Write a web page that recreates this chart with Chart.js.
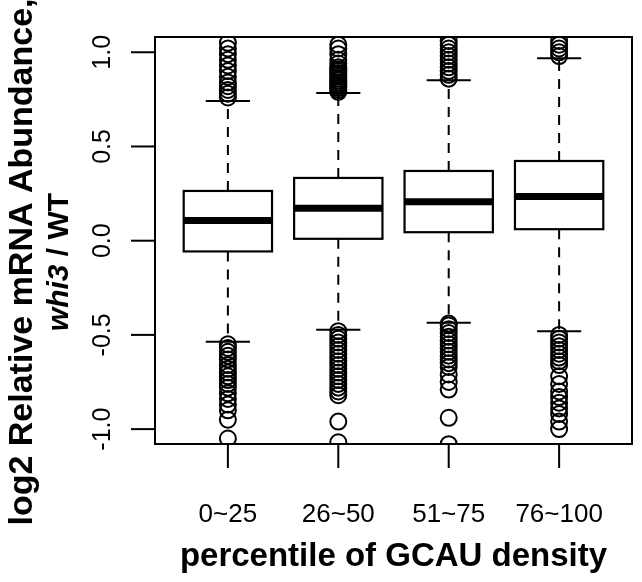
<!DOCTYPE html>
<html>
<head>
<meta charset="utf-8">
<script src="https://cdn.jsdelivr.net/npm/chart.js@4"></script>
<style>
  html, body { margin: 0; padding: 0; background: #fff; }
  canvas { display: block; }
</style>
</head>
<body>
<canvas id="boxChart" width="642" height="582"></canvas>
<script>
// box statistics per GCAU density group
const categories = ['0~25', '26~50', '51~75', '76~100'];
const lowerWhisker = [-0.537, -0.473, -0.436, -0.480];
const q1 = [-0.057, 0.010, 0.045, 0.061];
const median = [0.107, 0.172, 0.207, 0.234];
const q3 = [0.264, 0.333, 0.370, 0.423];
const upperWhisker = [0.742, 0.784, 0.851, 0.968];

// outliers
const outliers0 = [0.76, 0.78, 0.80, 0.82, 0.84, 0.87, 0.90, 0.93, 0.96, 0.99, 1.02, 1.05,
  -0.55, -0.57, -0.59, -0.61, -0.63, -0.66, -0.68, -0.70, -0.72, -0.74, -0.76, -0.78, -0.81, -0.84, -0.87, -0.90, -0.95, -1.05];
const outliers1 = [0.79, 0.80, 0.81, 0.82, 0.83, 0.84, 0.85, 0.86, 0.87, 0.88, 0.89, 0.90, 0.91, 0.92, 0.94, 0.96, 0.99, 1.02, 1.04,
  -0.48, -0.50, -0.52, -0.54, -0.56, -0.58, -0.60, -0.62, -0.64, -0.66, -0.68, -0.70, -0.72, -0.74, -0.76, -0.78, -0.80, -0.82, -0.96, -1.07];
const outliers2 = [0.86, 0.88, 0.90, 0.92, 0.94, 0.96, 0.98, 1.00, 1.02, 1.04, 1.06,
  -0.44, -0.45, -0.47, -0.49, -0.51, -0.53, -0.55, -0.57, -0.59, -0.61, -0.63, -0.65, -0.67, -0.71, -0.75, -0.79, -0.94, -1.08];
const outliers3 = [0.98, 1.00, 1.02, 1.04, 1.06,
  -0.50, -0.52, -0.54, -0.56, -0.58, -0.60, -0.62, -0.64, -0.66, -0.72, -0.76, -0.80, -0.83, -0.86, -0.89, -0.92, -0.96, -1.00];
const outliers = [outliers0, outliers1, outliers2, outliers3];

const yTicks = [-1.0, -0.5, 0.0, 0.5, 1.0];
const yTickLabels = ['-1.0', '-0.5', '0.0', '0.5', '1.0'];

const FONT = '"Liberation Sans", Arial, Helvetica, sans-serif';
const BOX_HALF = 0.4;
const CAP_HALF = 0.2;

const outlierPoints = outliers.flatMap((arr, i) => arr.map(v => ({ x: i + 1, y: v })));

function line(ctx, x1, y1, x2, y2) {
  ctx.beginPath();
  ctx.moveTo(x1, y1);
  ctx.lineTo(x2, y2);
  ctx.stroke();
}

const boxPlugin = {
  id: 'boxPlugin',
  beforeDatasetsDraw(chart) {
    const { ctx, scales: { x, y } } = chart;
    ctx.save();
    ctx.strokeStyle = '#000';
    ctx.lineCap = 'butt';
    categories.forEach((c, i) => {
      const pos = i + 1;
      const xl = x.getPixelForValue(pos - BOX_HALF);
      const xr = x.getPixelForValue(pos + BOX_HALF);
      const xc = x.getPixelForValue(pos);
      const cl = x.getPixelForValue(pos - CAP_HALF);
      const cr = x.getPixelForValue(pos + CAP_HALF);
      // whiskers
      ctx.lineWidth = 2;
      ctx.setLineDash([10, 8]);
      line(ctx, xc, y.getPixelForValue(q3[i]), xc, y.getPixelForValue(upperWhisker[i]));
      line(ctx, xc, y.getPixelForValue(q1[i]), xc, y.getPixelForValue(lowerWhisker[i]));
      ctx.setLineDash([]);
      // caps
      line(ctx, cl, y.getPixelForValue(upperWhisker[i]), cr, y.getPixelForValue(upperWhisker[i]));
      line(ctx, cl, y.getPixelForValue(lowerWhisker[i]), cr, y.getPixelForValue(lowerWhisker[i]));
      // box
      const yt = y.getPixelForValue(q3[i]);
      const yb = y.getPixelForValue(q1[i]);
      ctx.fillStyle = '#fff';
      ctx.fillRect(xl, yt, xr - xl, yb - yt);
      ctx.lineWidth = 2.2;
      ctx.strokeRect(xl, yt, xr - xl, yb - yt);
      // median
      ctx.lineWidth = 7;
      line(ctx, xl, y.getPixelForValue(median[i]), xr, y.getPixelForValue(median[i]));
    });
    ctx.restore();
  },
  afterDraw(chart) {
    const { ctx, chartArea: a, scales: { x, y } } = chart;
    ctx.save();
    ctx.strokeStyle = '#000';
    ctx.fillStyle = '#000';
    ctx.lineWidth = 2;
    ctx.strokeRect(a.left, a.top, a.right - a.left, a.bottom - a.top);

    // y axis ticks and labels
    line(ctx, a.left, y.getPixelForValue(yTicks[0]), a.left, y.getPixelForValue(yTicks[yTicks.length - 1]));
    ctx.font = '25px ' + FONT;
    ctx.textAlign = 'center';
    ctx.textBaseline = 'alphabetic';
    yTicks.forEach((t, i) => {
      const py = y.getPixelForValue(t);
      line(ctx, a.left - 24, py, a.left, py);
      ctx.save();
      ctx.translate(110, py);
      ctx.rotate(-Math.PI / 2);
      ctx.fillText(yTickLabels[i], 0, 0);
      ctx.restore();
    });

    // x axis ticks and labels
    line(ctx, x.getPixelForValue(1), a.bottom, x.getPixelForValue(categories.length), a.bottom);
    ctx.font = '26px ' + FONT;
    categories.forEach((c, i) => {
      const px = x.getPixelForValue(i + 1);
      line(ctx, px, a.bottom, px, a.bottom + 24);
      ctx.fillText(c, px, 522);
    });

    // x title
    ctx.font = 'bold 33px ' + FONT;
    ctx.fillText('percentile of GCAU density', (a.left + a.right) / 2, 566);

    // y title, two lines
    const cy = 262;
    ctx.save();
    ctx.translate(32, cy);
    ctx.rotate(-Math.PI / 2);
    ctx.font = 'bold 34px ' + FONT;
    ctx.fillText('log2 Relative mRNA Abundance,', 0, 0);
    ctx.restore();

    ctx.save();
    ctx.translate(68, cy);
    ctx.rotate(-Math.PI / 2);
    ctx.textAlign = 'left';
    const italic = 'italic bold 30px ' + FONT;
    const bold = 'bold 30px ' + FONT;
    ctx.font = italic;
    const w1 = ctx.measureText('whi3').width;
    ctx.font = bold;
    const w2 = ctx.measureText(' / WT').width;
    const start = -(w1 + w2) / 2;
    ctx.font = italic;
    ctx.fillText('whi3', start, 0);
    ctx.font = bold;
    ctx.fillText(' / WT', start + w1, 0);
    ctx.restore();

    ctx.restore();
  }
};

new Chart(document.getElementById('boxChart'), {
  type: 'scatter',
  data: {
    datasets: [{
      label: 'outliers',
      data: outlierPoints,
      pointStyle: 'circle',
      pointRadius: 8,
      pointHoverRadius: 8,
      borderWidth: 2,
      borderColor: '#000',
      backgroundColor: 'rgba(0,0,0,0)',
      clip: 0
    }]
  },
  options: {
    responsive: false,
    animation: false,
    events: [],
    layout: { padding: { left: 155, top: 37, right: 8, bottom: 138 } },
    plugins: { legend: { display: false }, tooltip: { enabled: false } },
    scales: {
      x: { type: 'linear', min: 0.34, max: 4.66, display: false },
      y: { type: 'linear', min: -1.079, max: 1.081, display: false }
    }
  },
  plugins: [boxPlugin]
});
</script>
</body>
</html>
